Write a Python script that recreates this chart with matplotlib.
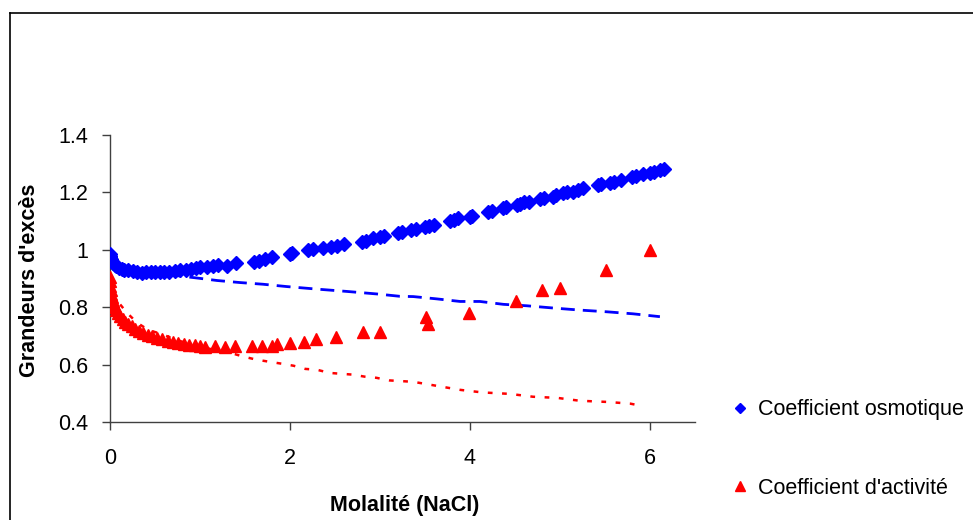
import matplotlib
matplotlib.use("Agg")
import matplotlib.pyplot as plt
from matplotlib.lines import Line2D
from matplotlib.ticker import FuncFormatter

plt.rcParams['font.family'] = ['Liberation Sans', 'DejaVu Sans']

# Coefficient osmotique (experimental)
osm_m = [0.001, 0.002, 0.005, 0.01, 0.02, 0.03, 0.05, 0.07, 0.1, 0.13, 0.16, 0.2, 0.25, 0.3,
         0.35, 0.4, 0.45, 0.5, 0.55, 0.6, 0.66, 0.72, 0.78, 0.84, 0.9, 0.95, 1.0, 1.08, 1.15,
         1.2, 1.3, 1.4, 1.6, 1.65, 1.72, 1.8, 2.0, 2.02, 2.2, 2.25, 2.37, 2.45, 2.52, 2.6,
         2.8, 2.85, 2.92, 3.0, 3.05, 3.2, 3.25, 3.35, 3.4, 3.5, 3.55, 3.6, 3.78, 3.82, 3.87,
         4.0, 4.02, 4.2, 4.25, 4.37, 4.4, 4.52, 4.55, 4.6, 4.65, 4.78, 4.82, 4.92, 4.95, 5.03,
         5.08, 5.14, 5.2, 5.25, 5.42, 5.46, 5.56, 5.6, 5.68, 5.8, 5.84, 5.92, 6.0, 6.05, 6.11,
         6.15]
osm_v = [0.985, 0.98, 0.975, 0.968, 0.96, 0.955, 0.948, 0.942, 0.937, 0.933, 0.93, 0.928,
         0.925, 0.923, 0.92, 0.922, 0.921, 0.923, 0.922, 0.924, 0.923, 0.926, 0.93, 0.928,
         0.934, 0.935, 0.94, 0.94, 0.945, 0.948, 0.944, 0.955, 0.958, 0.962, 0.968, 0.975,
         0.986, 0.99, 1.0, 1.003, 1.007, 1.01, 1.012, 1.02, 1.028, 1.032, 1.04, 1.044, 1.047,
         1.058, 1.063, 1.07, 1.074, 1.08, 1.083, 1.087, 1.1, 1.104, 1.11, 1.115, 1.118, 1.132,
         1.136, 1.146, 1.15, 1.157, 1.16, 1.165, 1.168, 1.178, 1.18, 1.185, 1.19, 1.198, 1.2,
         1.203, 1.21, 1.214, 1.226, 1.229, 1.233, 1.236, 1.242, 1.254, 1.256, 1.265, 1.268,
         1.272, 1.277, 1.283]

# Coefficient d'activité (experimental)
act_m = [0.001, 0.003, 0.005, 0.01, 0.015, 0.02, 0.03, 0.04, 0.05, 0.07, 0.09, 0.11, 0.14,
         0.17, 0.2, 0.24, 0.28, 0.32, 0.37, 0.42, 0.47, 0.52, 0.58, 0.64, 0.7, 0.76, 0.82,
         0.88, 0.94, 1.0, 1.05, 1.17, 1.28, 1.39, 1.58, 1.69, 1.8, 1.85, 2.0, 2.15, 2.29,
         2.51, 2.81, 3.0, 3.51, 3.53, 3.99, 4.51, 4.8, 5.0, 5.51, 6.0]
act_v = [0.905, 0.89, 0.875, 0.86, 0.845, 0.835, 0.82, 0.81, 0.8, 0.79, 0.78, 0.77, 0.76,
         0.75, 0.742, 0.733, 0.725, 0.718, 0.71, 0.704, 0.698, 0.693, 0.688, 0.683, 0.679,
         0.676, 0.673, 0.669, 0.667, 0.664, 0.663, 0.664, 0.662, 0.664, 0.665, 0.665, 0.666,
         0.672, 0.676, 0.68, 0.688, 0.697, 0.713, 0.714, 0.765, 0.742, 0.78, 0.822, 0.86,
         0.867, 0.93, 1.0]

# Model curves
osm_model_m = [0, 0.02, 0.1, 0.3, 0.5, 0.74, 0.96, 1.19, 1.44, 1.7, 1.96, 2.3, 2.63, 2.97,
               3.22, 3.37, 3.63, 3.89, 4.11, 4.37, 4.63, 4.93, 5.22, 5.52, 5.81, 6.11]
osm_model_v = [0.985, 0.96, 0.94, 0.925, 0.918, 0.91, 0.902, 0.893, 0.886, 0.88, 0.872, 0.863,
               0.855, 0.846, 0.838, 0.837, 0.829, 0.82, 0.82, 0.81, 0.805, 0.797, 0.79, 0.784,
               0.777, 0.767]

act_model_m = [0, 0.02, 0.07, 0.19, 0.3, 0.43, 0.58, 0.7, 0.85, 1.0, 1.2, 1.37, 1.48, 1.63,
               1.77, 1.91, 2.04, 2.17, 2.3, 2.44, 2.57, 2.7, 2.83, 2.96, 3.1, 3.37, 3.63, 3.89,
               4.14, 4.44, 4.7, 4.97, 5.22, 5.52, 5.78, 5.91]
act_model_v = [0.9, 0.86, 0.826, 0.78, 0.746, 0.72, 0.706, 0.69, 0.675, 0.663, 0.648, 0.638,
               0.628, 0.617, 0.61, 0.603, 0.596, 0.585, 0.582, 0.571, 0.568, 0.565, 0.558,
               0.554, 0.545, 0.54, 0.526, 0.512, 0.503, 0.498, 0.488, 0.484, 0.474, 0.47,
               0.464, 0.456]

x_ticks = [0, 2, 4, 6]
y_ticks = [0.4, 0.6, 0.8, 1.0, 1.2, 1.4]

W, H = 973, 520
fig = plt.figure(figsize=(W / 100, H / 100), dpi=100)
ax = fig.add_axes([110 / W, 1 - 422 / H, 585 / W, 287 / H])

ax.plot(osm_model_m, osm_model_v, color='#0000FF', lw=2.0, dashes=(5, 2.9), zorder=2)
ax.plot(act_model_m, act_model_v, color='#FF0000', lw=1.8, dashes=(1.9, 3.8), zorder=2)
ax.plot(osm_m, osm_v, ls='none', marker='D', ms=7.0, color='#0000FF', mec='#0000FF', zorder=3)
ax.plot(act_m, act_v, ls='none', marker='^', ms=8.0, color='#FF0000', mec='#FF0000', zorder=3)

ax.set_xlim(0, 6.5)
ax.set_ylim(0.4, 1.4)
ax.set_xticks(x_ticks)
ax.set_yticks(y_ticks)
ax.yaxis.set_major_formatter(FuncFormatter(lambda v, p: f"{v:g}"))
ax.xaxis.set_major_formatter(FuncFormatter(lambda v, p: f"{v:g}"))
for s in ['top', 'right']:
    ax.spines[s].set_visible(False)
for s in ['left', 'bottom']:
    ax.spines[s].set_color('#404040')
    ax.spines[s].set_linewidth(1.0)
ax.tick_params(axis='both', direction='out', length=6, width=1.0, color='#404040',
               labelsize=15.5)
ax.tick_params(axis='y', pad=10)
ax.tick_params(axis='x', pad=13)

fig.text(405 / W, 1 - 505 / H, "Molalité (NaCl)", fontsize=15.5, fontweight='bold',
         ha='center', va='center')
fig.text(30 / W, 1 - 280 / H, "Grandeurs d'excès", fontsize=15.5, fontweight='bold',
         ha='center', va='center', rotation=90)

handles = [Line2D([], [], ls='none', marker='D', ms=5.5, color='#0000FF'),
           Line2D([], [], ls='none', marker='^', ms=6.5, color='#FF0000')]
fig.legend(handles, ["Coefficient osmotique", "Coefficient d'activité"],
           loc='center left', bbox_to_anchor=(710 / W, 1 - 449 / H), frameon=False,
           fontsize=15.5, labelspacing=2.65, handlelength=1.0, handletextpad=0.35)

# outer chart frame
fig.add_artist(Line2D([10 / W, 10 / W], [0, 1 - 13 / H], transform=fig.transFigure,
                      color='black', lw=1.2))
fig.add_artist(Line2D([10 / W, 1], [1 - 13 / H, 1 - 13 / H], transform=fig.transFigure,
                      color='black', lw=1.2))

fig.savefig("out.png", dpi=100)
